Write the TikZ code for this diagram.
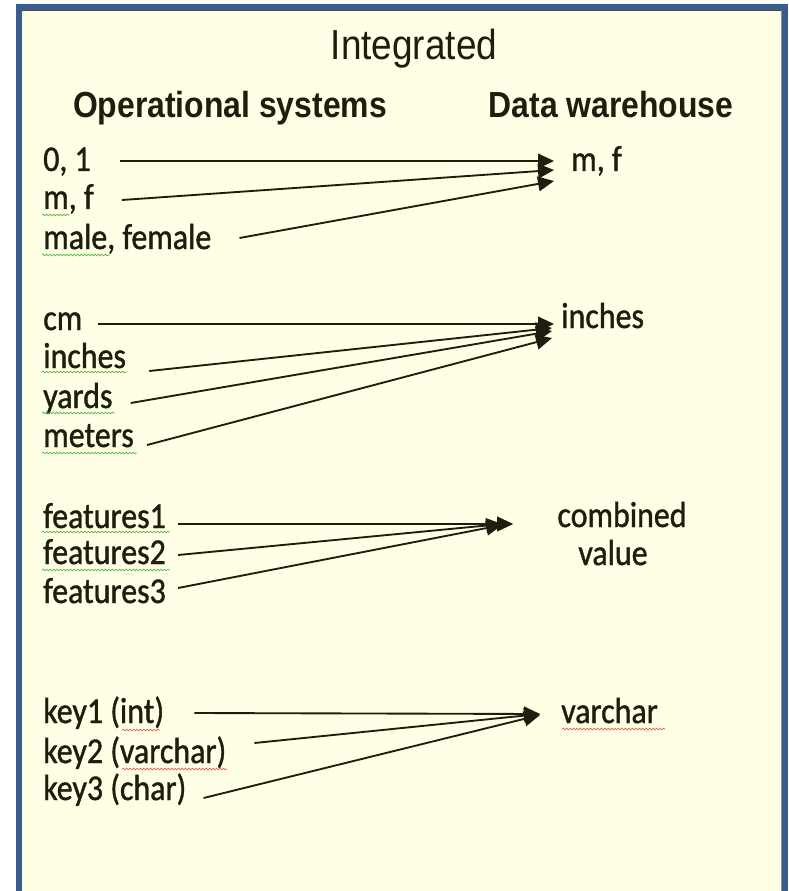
\documentclass[tikz,border=0pt]{standalone}
\usepackage{fontspec}
\usetikzlibrary{arrows.meta,decorations.pathmorphing}
\newfontfamily\calfont[FakeStretch=0.88,FakeBold=1.1]{Carlito}
\newfontfamily\arfont[FakeStretch=0.88]{Liberation Sans}
\definecolor{paper}{HTML}{FFFFE6}
\definecolor{frameblue}{HTML}{3A5D8D}
\definecolor{ink}{HTML}{1E1E0E}
\definecolor{spellgreen}{HTML}{5CB848}
\definecolor{spellred}{HTML}{E8605A}
\begin{document}
\begin{tikzpicture}[x=0.75pt,y=-0.75pt,
  item/.style={anchor=base west,inner sep=0pt,text=ink,
    font=\calfont\fontsize{27.2}{28.5}\selectfont},
  target/.style={item},
  heading/.style={anchor=base,inner sep=0pt,text=ink,
    font=\arfont\bfseries\fontsize{27.2}{28.5}\selectfont},
  link/.style={draw=ink,line width=1.4pt,
    -{Triangle[length=12pt,width=11pt]}},
  squig/.style={decorate,decoration={snake,amplitude=0.6pt,segment length=2.6pt},
    line width=0.55pt}]
\useasboundingbox (0,0) rectangle (788,891);
\clip (0,0) rectangle (788,891);

% slide frame
\fill[paper] (19,7) rectangle (785,900);
\draw[frameblue,line width=4.5pt] (19,7) rectangle (785,900);
\draw[ink!80,line width=0.6pt] (22,10.4) -- (781.6,10.4);
\draw[black!45,line width=0.5pt] (781.6,10.4) -- (781.6,900);

% title and column headings
\node[anchor=base,inner sep=0pt,text=ink,font=\arfont\fontsize{31.5}{33}\selectfont]
  (title) at (414,60) {Integrated};
\node[heading] (hsrc) at (230,118) {Operational systems};
\node[heading] (hdw) at (611,118) {Data warehouse};

% group 1: gender codes
\node[item] (g1a) at (43,171) {0, 1};
\node[item] (g1b) at (43,209) {m, f};
\node[item] (g1c) at (43,249) {male, female};
\node[target] (g1t) at (571,171) {m, f};
\draw[link] ([shift={(29,-10)}]g1a.base east) -- ([shift={(-17,-10)}]g1t.base west);
\draw[link] ([shift={(28,-9)}]g1b.base east) -- ([shift={(-17,-1)}]g1t.base west);
\draw[link] ([shift={(28,-11)}]g1c.base east) -- ([shift={(-17,10)}]g1t.base west);

% group 2: units
\node[item] (g2a) at (43,330) {cm};
\node[item] (g2b) at (43,368) {inches};
\node[item] (g2c) at (43,408) {yards};
\node[item] (g2d) at (43,447) {meters};
\node[target] (g2t) at (561,328) {inches};
\draw[link] ([shift={(15,-6)}]g2a.base east) -- ([shift={(-7,-4)}]g2t.base west);
\draw[link] ([shift={(23,3)}]g2b.base east) -- ([shift={(-9,0)}]g2t.base west);
\draw[link] ([shift={(18,-5)}]g2c.base east) -- ([shift={(-9,3)}]g2t.base west);
\draw[link] ([shift={(13,-2)}]g2d.base east) -- ([shift={(-9,10)}]g2t.base west);

% group 3: features
\node[item] (g3a) at (43,528) {features1};
\node[item] (g3b) at (43,564) {features2};
\node[item] (g3c) at (43,603) {features3};
\node[item,anchor=base] (g3t) at (622,527) {combined};
\node[item,anchor=base] (g3u) at (613,565) {value};
\draw[link] ([shift={(12,-4)}]g3a.base east) -- ([shift={(-44,-3)}]g3t.base west);
\draw[link] ([shift={(12,-9)}]g3b.base east) -- ([shift={(-55,-3)}]g3t.base west);
\draw[link] ([shift={(12,-15)}]g3c.base east) -- ([shift={(-55,-2)}]g3t.base west);

% group 4: key types
\node[item] (g4a) at (43,723) {key1 (int)};
\node[item] (g4b) at (43,763) {key2 (varchar)};
\node[item] (g4c) at (43,800) {key3 (char)};
\node[target] (g4t) at (561,723) {varchar};
\draw[link] ([shift={(30,-10)}]g4a.base east) -- ([shift={(-21,-9)}]g4t.base west);
\draw[link] ([shift={(28,-20)}]g4b.base east) -- ([shift={(-21,-9)}]g4t.base west);
\draw[link] ([shift={(17,-2)}]g4c.base east) -- ([shift={(-21,-8)}]g4t.base west);

% spell-check underlines
\draw[squig,spellgreen] (42,215) -- (70,215);
\draw[squig,spellgreen] (42,255) -- (110,255);
\draw[squig,spellgreen] (42,372) -- (127,372);
\draw[squig,spellgreen] (42,413) -- (115,413);
\draw[squig,spellgreen] (42,453) -- (137,453);
\draw[squig,spellgreen] (42,532) -- (170,532);
\draw[squig,spellgreen] (42,570) -- (170,570);
\draw[squig,spellred] (122,730) -- (160,730);
\draw[squig,spellred] (122,769) -- (227,769);
\draw[squig,spellred] (562,729) -- (665,729);
\end{tikzpicture}
\end{document}
